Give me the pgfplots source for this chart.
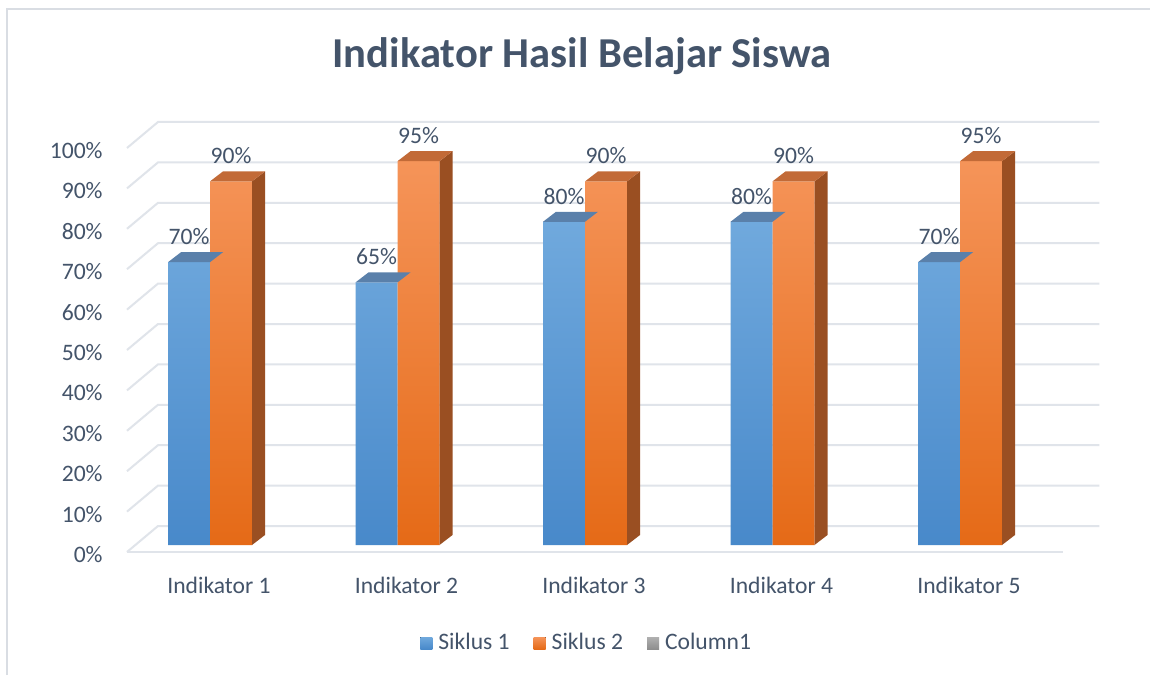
\documentclass[border=0pt]{standalone}
\usepackage{fontspec}
\setmainfont{Carlito}
\usepackage{pgfplots}
\pgfplotsset{compat=1.18}
\definecolor{tc}{HTML}{44546A}
\definecolor{gridc}{HTML}{E0E4EA}
\definecolor{bT}{HTML}{70A9DD}
\definecolor{bB}{HTML}{4889CA}
\definecolor{bTop}{HTML}{5A80AA}
\definecolor{oT}{HTML}{F59459}
\definecolor{oB}{HTML}{E56A17}
\definecolor{oTop}{HTML}{C26A37}
\definecolor{oSide}{HTML}{9A4F22}
\definecolor{gT}{HTML}{B0B0B0}
\definecolor{gB}{HTML}{8E8E8E}
\definecolor{borderc}{HTML}{D9DDE3}

\pgfdeclareplotmark{btop}{%
  \pgfpathmoveto{\pgfqpoint{-21pt}{0pt}}%
  \pgfpathlineto{\pgfqpoint{0pt}{0pt}}%
  \pgfpathlineto{\pgfqpoint{6.5pt}{5pt}}%
  \pgfpathlineto{\pgfqpoint{-14.5pt}{5pt}}%
  \pgfpathclose
  \pgfsetfillcolor{bTop}%
  \pgfusepath{fill}%
}
\pgfdeclareplotmark{o3d}{%
  \pgfmathsetmacro\hh{\rawy*2.02}%
  \pgfpathmoveto{\pgfqpoint{21pt}{0pt}}%
  \pgfpathlineto{\pgfqpoint{27.5pt}{5pt}}%
  \pgfpathlineto{\pgfpoint{27.5pt}{5pt-\hh pt}}%
  \pgfpathlineto{\pgfpoint{21pt}{-\hh pt}}%
  \pgfpathclose
  \pgfsetfillcolor{oSide}%
  \pgfusepath{fill}%
  \pgfpathmoveto{\pgfqpoint{0pt}{0pt}}%
  \pgfpathlineto{\pgfqpoint{21pt}{0pt}}%
  \pgfpathlineto{\pgfqpoint{27.5pt}{5pt}}%
  \pgfpathlineto{\pgfqpoint{6.5pt}{5pt}}%
  \pgfpathclose
  \pgfsetfillcolor{oTop}%
  \pgfusepath{fill}%
}
\pgfplotsset{sqlegend/.style={legend image code/.code={\fill[##1] (0pt,-3pt) rectangle (6pt,3pt);}}}

\begin{document}
\begin{tikzpicture}
\fill[white] (0,0) rectangle (575pt,337.5pt);
\draw[borderc, line width=0.75pt] (3.5pt,0pt) -- (3.5pt,333pt) -- (575pt,333pt);
\node[anchor=base, text=tc, inner sep=0pt, font=\fontsize{21.3}{25}\selectfont\bfseries] at (291pt,303.5pt) {Indikator Hasil Belajar Siswa};
\begin{axis}[
  at={(67.5pt,65pt)}, anchor=south west,
  scale only axis, width=468.75pt, height=202pt,
  xmin=-0.4, xmax=4.6, ymin=0, ymax=100,
  clip=false,
  axis line style={draw=none},
  major tick length=0pt,
  xtick={0,1,2,3,4},
  xticklabels={Indikator 1,Indikator 2,Indikator 3,Indikator 4,Indikator 5},
  ytick={0,10,...,100},
  yticklabel={\pgfmathprintnumber{\tick}\%},
  /pgf/number format/assume math mode=true,
  ticklabel style={font=\fontsize{11.8}{14}\selectfont, text=tc, inner sep=0pt},
  xticklabel style={anchor=base, xshift=4.5pt, yshift=-24pt},
  yticklabel style={anchor=base east, xshift=-16pt, yshift=-8.75pt},
  legend columns=3,
  legend cell align=left,
  legend style={at={(0.304,-0.2426)}, anchor=west, draw=none, fill=none, inner sep=0pt,
    font=\fontsize{11.8}{14}\selectfont, text=tc, nodes={inner sep=0pt},
    column sep=3pt, /tikz/every even column/.append style={column sep=12pt}},
  nodes near coords={\pgfmathprintnumber{\pgfplotspointmeta}\%},
  every node near coord/.append style={font=\fontsize{11.8}{14}\selectfont, text=tc, inner sep=0pt, anchor=south, yshift=8.5pt},
]
\pgfplotsinvokeforeach{0,10,...,100}{
  \draw[gridc, line width=1pt] ([shift={(-4pt,-3.5pt)}]axis cs:-0.4,#1) -- ([shift={(11.5pt,9.5pt)}]axis cs:-0.4,#1) -- ([shift={(11.5pt,9.5pt)}]axis cs:4.62,#1);
}
\draw[gridc, line width=1pt] ([shift={(-4pt,-3.5pt)}]axis cs:-0.4,0) -- ([shift={(-4pt,-3.5pt)}]axis cs:4.59,0);

\addplot[ybar, bar width=21pt, bar shift=-10.5pt, draw=none, top color=bT, bottom color=bB, sqlegend,
  every node near coord/.append style={xshift=-10.5pt}]
  coordinates {(0,70) (1,65) (2,80) (3,80) (4,70)};
\addlegendentry{Siklus 1}
\addplot[only marks, mark=btop, forget plot, nodes near coords={}]
  coordinates {(0,70) (1,65) (2,80) (3,80) (4,70)};
\addplot[ybar, bar width=21pt, bar shift=10.5pt, draw=none, top color=oT, bottom color=oB, sqlegend,
  every node near coord/.append style={xshift=10.5pt}]
  coordinates {(0,90) (1,95) (2,90) (3,90) (4,95)};
\addlegendentry{Siklus 2}
\addplot[only marks, mark=o3d, forget plot, nodes near coords={}, visualization depends on={y \as \rawy}]
  coordinates {(0,90) (1,95) (2,90) (3,90) (4,95)};
\addlegendimage{sqlegend, top color=gT, bottom color=gB, draw=none}
\addlegendentry{Column1}
\end{axis}
\pgfresetboundingbox
\path[use as bounding box] (0,0) rectangle (575pt,337.5pt);
\end{tikzpicture}
\end{document}
